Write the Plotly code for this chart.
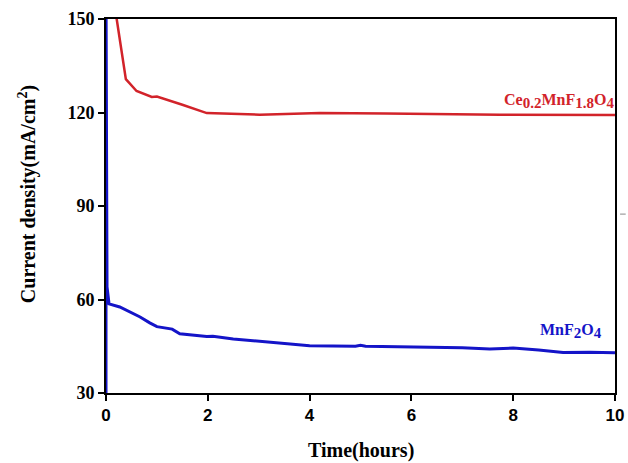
import plotly.graph_objects as go

# Chronoamperometry: current density vs. time
time_mnf = [0.0, 0.0, 0.02, 0.06, 0.27, 0.5, 0.67, 0.86, 1.0, 1.3, 1.45, 1.98, 2.1, 2.5, 3.0, 3.81, 4.0, 4.9, 5.0, 5.1, 5.97, 7.0, 7.54, 8.0, 8.5, 8.98, 9.5, 10.0]
j_mnf = [30.0, 160.0, 64.0, 58.6, 57.6, 55.8, 54.4, 52.5, 51.3, 50.5, 49.0, 48.1, 48.2, 47.3, 46.6, 45.5, 45.2, 45.0, 45.3, 45.0, 44.8, 44.5, 44.1, 44.4, 43.8, 43.0, 43.1, 42.9]

time_ce = [0.15, 0.21, 0.39, 0.6, 0.9, 1.0, 1.5, 1.98, 3.02, 4.2, 5.5, 7.74, 10.0]
j_ce = [165.0, 150.0, 130.7, 126.9, 125.0, 125.1, 122.5, 119.8, 119.3, 119.8, 119.7, 119.3, 119.2]

x_ticks = [0, 2, 4, 6, 8, 10]
y_ticks = [30, 60, 90, 120, 150]

red = "#d2232a"
blue = "#1414c8"
serif = "Liberation Serif, Times New Roman, serif"
sans = "Liberation Sans, Arial, sans-serif"

fig = go.Figure()
fig.add_trace(go.Scatter(x=time_mnf, y=j_mnf, mode="lines",
                         line=dict(color=blue, width=3), showlegend=False))
fig.add_trace(go.Scatter(x=time_ce, y=j_ce, mode="lines",
                         line=dict(color=red, width=2.5), showlegend=False))


def sub(t, size):
    return f"<sub><span style='font-size:{size}px'>{t}</span></sub>"


fig.add_annotation(x=10, y=120.3, xref="x", yref="y", xanchor="right", yanchor="bottom",
                   text="<b>Ce" + sub("0.2", 15) + "MnF" + sub("1.8", 15) + "O" + sub("4", 15) + "</b>",
                   showarrow=False, borderpad=0, font=dict(family=serif, size=16, color=red))
fig.add_annotation(x=9.76, y=46.3, xref="x", yref="y", xanchor="right", yanchor="bottom",
                   text="<b>MnF" + sub("2", 15) + "O" + sub("4", 15) + "</b>",
                   showarrow=False, borderpad=0, font=dict(family=serif, size=16, color=blue))

# axis titles
fig.add_annotation(x=0.5, y=-0.155, xref="paper", yref="paper", xanchor="center", yanchor="middle",
                   text="<b>Time(hours)</b>", showarrow=False,
                   font=dict(family=serif, size=20, color="black"))
fig.add_annotation(x=-0.155, y=0.532, xref="paper", yref="paper", xanchor="center", yanchor="middle",
                   text="<b>Current density(mA/cm<sup>2</sup>)</b>", textangle=-90, showarrow=False,
                   font=dict(family=serif, size=20, color="black"))

# small tick mark off the right edge
fig.add_shape(type="line", xref="paper", yref="y", x0=1.01, x1=1.021, y0=87.4, y1=87.4,
              line=dict(color="#888888", width=1))

fig.update_xaxes(range=[0, 10], tickvals=x_ticks,
                 ticktext=[f"<b>{v}</b>" for v in x_ticks],
                 ticks="outside", ticklen=6, tickwidth=2, tickcolor="black",
                 showline=True, linecolor="black", linewidth=2, mirror=True,
                 showgrid=False, zeroline=False, automargin=False,
                 tickfont=dict(family=sans, size=17, color="black"))
fig.update_yaxes(range=[30, 150], tickvals=y_ticks,
                 ticktext=[f"<b>{v}</b>" for v in y_ticks],
                 ticks="outside", ticklen=6, tickwidth=2, tickcolor="black",
                 showline=True, linecolor="black", linewidth=2, mirror=True,
                 showgrid=False, zeroline=False, automargin=False,
                 tickfont=dict(family=serif, size=18, color="black"))

fig.update_layout(width=628, height=463, margin=dict(l=106, r=13, t=19, b=70, autoexpand=False),
                  plot_bgcolor="white", paper_bgcolor="white")

fig.write_html("out.html")
